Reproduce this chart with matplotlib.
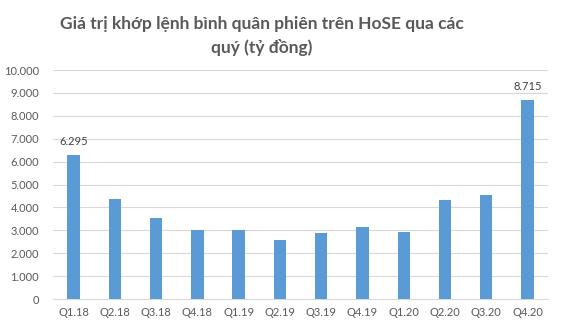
import matplotlib
matplotlib.use("Agg")
import matplotlib.pyplot as plt
from matplotlib.ticker import FuncFormatter

# quarterly average matched value on HoSE (ty dong)
quarters = ['Q1.18', 'Q2.18', 'Q3.18', 'Q4.18', 'Q1.19', 'Q2.19',
            'Q3.19', 'Q4.19', 'Q1.20', 'Q2.20', 'Q3.20', 'Q4.20']
values = [6295, 4380, 3550, 3010, 3010, 2580,
          2900, 3160, 2940, 4320, 4550, 8715]
labelled = {0: '6.295', 11: '8.715'}

plt.rcParams['font.family'] = ['Lato', 'DejaVu Sans']

fig = plt.figure(figsize=(5.61, 3.29), dpi=100)
ax = fig.add_axes([0.0945, 0.091, 0.8825, 0.696])

x = range(len(quarters))
ax.bar(x, values, width=0.3, color='#5B9BD5', zorder=3)
for i, txt in labelled.items():
    ax.text(i, values[i] + 330, txt, ha='center', va='bottom', fontsize=8, color='#404040')

ax.set_xlim(-0.5, len(quarters) - 0.5)
ax.set_ylim(0, 10000)
ax.set_yticks(range(0, 10001, 1000))
ax.yaxis.set_major_formatter(FuncFormatter(lambda v, p: f"{int(v):,}".replace(',', '.')))
ax.set_xticks(list(x))
ax.set_xticklabels(quarters)
ax.tick_params(axis='both', length=0, labelsize=8, colors='#595959')
ax.tick_params(axis='y', pad=10)
ax.tick_params(axis='x', pad=6)
ax.grid(axis='y', color='#D9D9D9', linewidth=0.8, zorder=0)
for s in ['top', 'right', 'left']:
    ax.spines[s].set_visible(False)
ax.spines['bottom'].set_color('#D9D9D9')

fig.text(0.467, 0.95, 'Giá trị khớp lệnh bình quân phiên trên HoSE qua các\nquý (tỷ đồng)',
         ha='center', va='top', fontsize=12.5, fontweight='bold', color='#595959',
         linespacing=1.45)

fig.savefig('out.png', dpi=100)
